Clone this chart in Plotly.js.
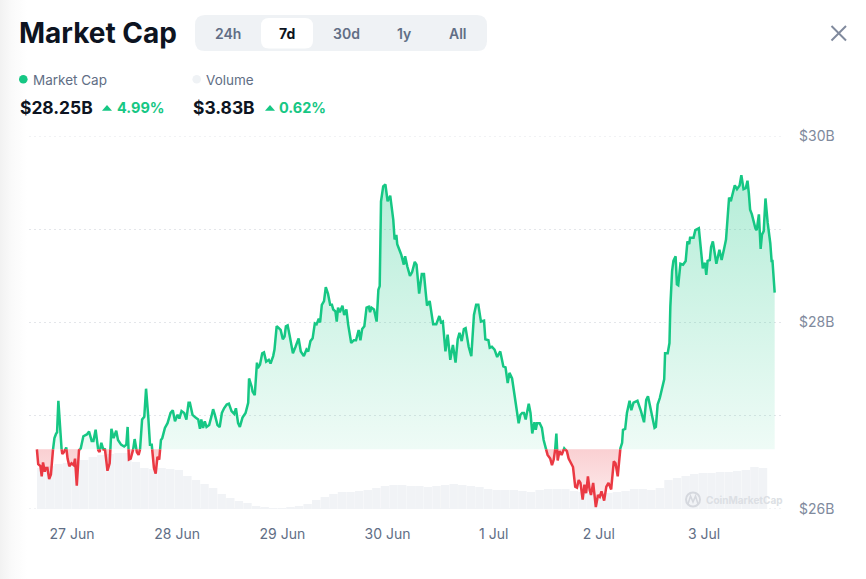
<!DOCTYPE html>
<html>
<head>
<meta charset="utf-8">
<script src="https://cdn.plot.ly/plotly-3.0.1.min.js"></script>
<style>
html,body{margin:0;padding:0;width:866px;height:579px;overflow:hidden;background:linear-gradient(to right,#f2f2f2 0,#fafafa 12px,#ffffff 27px);}
#chart{width:866px;height:579px;}
</style>
</head>
<body>
<div id="chart"></div>
<script>
// Hours after 27 Jun 00:00
const hours = [
-8.2,-7.9,-7.4,-7.1,-6.8,-6.4,-6.2,-5.8,-5.4,-5.0,-4.5,-4.2,-3.8,-3.6,-3.3,-2.9,-2.6,-2.4,-2.0,-1.5,-1.2,-0.8,-0.3,0.2,0.5,0.9,1.4,1.8,2.4,2.7,3.2,3.7,4.3,4.7,5.2,5.8,6.1,6.5,7.0,7.3,7.9,8.4,8.8,9.3,9.9,10.3,11.0,11.7,12.2,12.5,12.8,13.2,13.7,14.1,14.6,15.0,15.3,15.8,16.3,16.7,17.2,17.6,18.0,18.5,18.9,19.3,19.7,20.1,20.4,21.0,21.6,22.3,22.8,23.3,23.9,24.3,24.8,25.4,25.9,26.4,26.7,27.3,28.0,28.6,29.0,29.3,29.7,30.1,30.5,31.1,31.6,32.0,32.4,33.0,33.5,34.0,34.5,35.1,35.6,36.2,36.8,37.2,37.7,38.1,38.7,39.4,40.0,
40.2,40.8,41.0,41.5,42.0,42.2,42.7,43.2,43.6,44.1,44.7,45.1,45.7,46.0,46.5,47.0,47.4,47.9,48.3,48.6,49.0,49.5,50.2,50.8,51.5,52.0,52.7,53.3,53.7,54.2,54.7,55.2,55.6,56.1,56.4,56.8,57.3,57.7,58.2,58.7,59.1,59.4,59.9,60.2,60.5,60.9,61.5,61.9,62.4,62.8,63.5,64.1,64.6,65.2,65.6,66.0,66.5,67.0,67.5,67.8,68.1,68.7,69.3,69.7,70.0,70.3,70.8,71.3,71.8,72.4,72.9,73.1,73.4,73.8,74.0,74.5,74.9,75.5,75.8,76.3,76.9,77.4,78.0,78.4,79.0,79.6,80.1,80.5,80.8,81.4,82.2,82.9,83.6,84.0,84.4,85.0,85.5,86.1,86.7,87.3,87.8,88.2,88.7,89.2,89.6,90.3,90.9,91.5,92.0,92.5,93.1,93.8,94.1,94.8,95.1,95.6,96.2,96.8,97.5,98.2,98.7,99.2,99.6,100.2,100.7,101.3,
101.7,102.1,102.5,102.9,103.3,104.0,104.4,104.8,105.3,105.6,105.9,106.5,107.0,107.4,107.9,108.3,108.9,109.3,109.7,110.0,110.3,110.6,111.0,111.5,112.1,112.7,113.1,113.6,114.1,114.6,115.0,115.4,115.8,116.3,116.7,117.1,117.5,117.9,118.2,118.7,119.3,119.8,120.2,120.6,121.2,121.7,122.2,122.8,123.4,123.8,124.3,124.9,125.3,125.5,126.0,126.4,127.0,127.4,127.9,128.8,129.6,130.3,130.8,131.2,131.6,132.1,132.7,133.0,133.4,133.9,134.4,134.9,
135.1,135.7,136.1,136.3,136.7,137.0,137.5,137.8,138.1,138.6,139.2,139.8,140.2,140.6,140.8,141.6,142.0,142.8,143.7,144.2,144.5,144.8,145.3,145.6,146.0,146.8,147.5,148.0,148.6,149.0,149.7,150.1,150.4,151.0,151.5,152.1,152.5,153.0,153.5,153.9,154.2,154.5,154.9,155.7,156.0,156.5,156.9,157.2,157.6,158.0,158.5,159.1,159.4,159.6,160.1
];
// Market cap in $B
const marketCap = [
26.64,26.48,26.46,26.35,26.50,26.40,26.44,26.44,26.32,26.37,26.65,26.76,26.81,26.82,27.16,26.81,26.65,26.59,26.61,26.66,26.54,26.46,26.49,26.47,26.54,26.25,26.63,26.65,26.78,26.79,26.80,26.83,26.73,26.73,26.85,26.63,26.61,26.71,26.63,26.65,26.41,26.49,26.86,26.76,26.84,26.74,26.69,26.67,26.69,26.88,26.53,26.54,26.62,26.75,26.61,26.58,26.62,26.96,26.99,27.29,26.99,26.69,26.69,26.44,26.38,26.56,26.53,26.74,26.76,26.87,26.92,27.03,27.06,26.94,27.01,26.97,27.05,27.03,26.96,27.14,27.14,27.01,26.98,26.96,26.86,26.96,26.87,26.94,26.88,26.90,26.99,27.07,27.01,26.90,26.88,27.03,27.08,27.12,27.13,27.05,27.02,27.08,26.92,26.88,26.98,27.03,27.14,
27.40,27.31,27.26,27.22,27.57,27.51,27.55,27.67,27.68,27.58,27.60,27.56,27.64,27.71,27.96,27.94,27.92,27.82,27.85,27.96,27.97,27.85,27.67,27.74,27.83,27.69,27.64,27.71,27.69,27.80,27.83,27.99,27.98,28.04,28.00,28.19,28.23,28.38,28.31,28.19,28.19,28.14,28.12,28.01,28.16,28.11,28.18,28.08,28.14,27.98,27.78,27.81,27.81,27.92,27.81,27.93,27.96,28.16,28.17,28.11,28.16,28.14,28.01,28.35,28.39,29.30,29.46,29.48,29.30,29.36,29.18,29.10,28.89,28.94,28.84,28.78,28.73,28.62,28.71,28.60,28.50,28.54,28.65,28.62,28.31,28.52,28.52,28.32,28.18,28.23,27.98,27.98,28.07,28.00,28.01,27.69,27.87,27.60,27.76,27.57,27.82,27.89,27.80,27.93,27.94,27.74,27.64,28.08,28.19,28.19,28.01,28.02,27.82,27.81,27.73,27.74,27.71,27.63,27.69,27.53,27.52,27.35,27.46,27.40,27.24,27.06,
26.92,27.01,27.03,27.03,26.96,27.13,27.03,26.81,26.93,26.85,26.92,26.92,26.87,26.74,26.65,26.58,26.54,26.47,26.53,26.62,26.81,26.52,26.62,26.58,26.65,26.62,26.54,26.49,26.45,26.24,26.23,26.31,26.28,26.10,26.26,26.17,26.35,26.20,26.15,26.28,26.02,26.15,26.13,26.19,26.09,26.24,26.28,26.21,26.51,26.49,26.35,26.65,26.71,26.85,26.86,27.03,27.16,27.06,27.14,27.16,27.05,26.93,27.17,27.21,27.12,26.99,26.87,26.88,27.12,27.19,27.30,27.39,
27.67,27.67,27.78,28.17,28.55,28.66,28.71,28.41,28.40,28.63,28.62,28.66,28.87,28.84,28.91,28.91,28.99,29.01,28.58,28.64,28.51,28.66,28.67,28.81,28.87,28.63,28.78,28.67,28.80,28.89,29.34,29.30,29.36,29.47,29.43,29.47,29.58,29.43,29.44,29.52,29.39,29.21,29.16,29.01,28.99,29.16,28.79,28.94,28.98,29.33,29.07,28.85,28.66,28.66,28.32
];
// Volume in $B, evenly spaced bars across the period
const volume = [
3.74,3.92,4.10,4.20,4.29,4.47,4.74,4.92,5.02,5.11,5.11,4.29,3.74,3.65,3.74,3.65,3.56,3.01,2.64,2.28,1.92,1.37,1.00,0.73,0.55,0.27,0.18,0.09,0.09,0.18,0.27,0.46,0.82,1.09,1.37,1.55,1.55,1.64,1.73,1.92,2.10,2.19,2.19,2.10,2.10,2.01,2.10,2.19,2.28,2.19,2.10,2.01,1.82,1.73,1.73,1.73,1.64,1.55,1.73,1.82,1.82,1.82,1.64,1.55,1.46,1.37,1.46,1.55,1.64,1.82,1.82,1.73,1.92,2.64,2.83,3.01,3.19,3.28,3.28,3.37,3.37,3.47,3.56,3.83,3.74
];
const dayHours = [-0.2,23.8,47.8,71.8,96,120,144];
const dayLabels = ['27 Jun','28 Jun','29 Jun','30 Jun','1 Jul','2 Jul','3 Jul'];
const capTicks = [26,27,28,29,30];
const capTickText = ['$26B','','$28B','','$30B'];
const ranges = ['24h','7d','30d','1y','All'];
const rangeCentres = [228,287,346,404,458];
const statLabels = ['Market Cap','Volume'];
const statValues = ['$28.25B','$3.83B'];
const statChanges = ['4.99%','0.62%'];

const W=866,H=579,M={l:29,r:83,t:136,b:70};
const GREEN='#16c784',RED='#ea3943',INK='#0d1421',GREY='#616e85',FONT='Inter, "Noto Sans", sans-serif';
const GRID='#e4e6ea';
const px=x=>(x-M.l)/(W-M.l-M.r);
const py=y=>(H-M.b-y)/(H-M.t-M.b);

// Colour split at the opening value
const base=marketCap[0];
const sx=[],up=[],dn=[],fu=[],fd=[];
hours.forEach((h,i)=>{
  const v=marketCap[i];
  if(i>0){
    const p=marketCap[i-1];
    if((p-base)*(v-base)<0){
      const t=(base-p)/(v-p),c=hours[i-1]+t*(h-hours[i-1]);
      sx.push(c);up.push(base);dn.push(base);fu.push(base);fd.push(base);
    }
  }
  sx.push(h);
  up.push(v>=base?v:null);dn.push(v<=base?v:null);
  fu.push(Math.max(v,base));fd.push(Math.min(v,base));
});
const baseLine=sx.map(()=>base);
const volHours=volume.map((_,i)=>-7.2+1.96*i);

const traces=[
 {type:'bar',x:volHours,y:volume,xaxis:'x',yaxis:'y',marker:{color:'#f1f3f6',line:{width:0}},hoverinfo:'skip'},
 {type:'scatter',mode:'lines',x:sx,y:baseLine,yaxis:'y2',line:{width:0},hoverinfo:'skip'},
 {type:'scatter',mode:'lines',x:sx,y:fu,yaxis:'y2',line:{width:0},fill:'tonexty',
  fillgradient:{type:'vertical',colorscale:[[0,'rgba(22,199,132,0.32)'],[1,'rgba(22,199,132,0.07)']],start:29.6,stop:base},hoverinfo:'skip'},
 {type:'scatter',mode:'lines',x:sx,y:baseLine,yaxis:'y2',line:{width:0},hoverinfo:'skip'},
 {type:'scatter',mode:'lines',x:sx,y:fd,yaxis:'y2',line:{width:0},fill:'tonexty',
  fillgradient:{type:'vertical',colorscale:[[0,'rgba(234,57,67,0.24)'],[1,'rgba(234,57,67,0.08)']],start:base,stop:26},hoverinfo:'skip'},
 {type:'scatter',mode:'lines',x:sx,y:up,yaxis:'y2',line:{color:GREEN,width:2.5},connectgaps:false},
 {type:'scatter',mode:'lines',x:sx,y:dn,yaxis:'y2',line:{color:RED,width:2.5},connectgaps:false}
];

function rr(x0,y0,x1,y1,r){
 const X=px,Y=py;
 return `M${X(x0+r)},${Y(y0)}L${X(x1-r)},${Y(y0)}Q${X(x1)},${Y(y0)} ${X(x1)},${Y(y0+r)}L${X(x1)},${Y(y1-r)}Q${X(x1)},${Y(y1)} ${X(x1-r)},${Y(y1)}L${X(x0+r)},${Y(y1)}Q${X(x0)},${Y(y1)} ${X(x0)},${Y(y1-r)}L${X(x0)},${Y(y0+r)}Q${X(x0)},${Y(y0)} ${X(x0+r)},${Y(y0)}Z`;
}
const shapeBase={xref:'paper',yref:'paper'};
function pathShape(path,fill,line){return Object.assign({},shapeBase,{type:'path',path,fillcolor:fill||'rgba(0,0,0,0)',line:line||{width:0}});}
function dot(cx,cy,r,fill,line){return Object.assign({},shapeBase,{type:'circle',x0:px(cx-r),x1:px(cx+r),y0:py(cy+r),y1:py(cy-r),fillcolor:fill,line:line||{width:0}});}
function tri(x0,x1,yTop,yBot){return pathShape(`M${px(x0)},${py(yBot)}L${px((x0+x1)/2)},${py(yTop)}L${px(x1)},${py(yBot)}Z`,GREEN);}
function seg(x0,y0,x1,y1,c,w){return Object.assign({},shapeBase,{type:'line',x0:px(x0),y0:py(y0),x1:px(x1),y1:py(y1),line:{color:c,width:w}});}
function edgeGrid(v){return {type:'line',xref:'paper',yref:'y2',x0:0,x1:1,y0:v,y1:v,layer:'below',line:{color:GRID,width:1,dash:'2px,3px'}};}

const shapes=[
 edgeGrid(capTicks[0]),
 edgeGrid(capTicks[4]),
 pathShape(rr(195,15,487,51,10),'#eff2f5'),
 pathShape(rr(261,18,313,48.5,8),'#ffffff'),
 dot(23.3,79.3,4.3,GREEN),
 dot(196.7,79.3,4.3,'#eff2f5'),
 tri(102,112,105,110.8),
 tri(265,275,105,110.8),
 seg(831.5,26,846,40.5,'#808a9d',2),
 seg(846,26,831.5,40.5,'#808a9d',2),
 dot(693,499.5,7,'rgba(0,0,0,0)',{color:'#d5d8de',width:2}),
 pathShape(`M${px(688)},${py(504)}L${px(690.5)},${py(496)}L${px(693)},${py(502)}L${px(695.5)},${py(496)}L${px(698)},${py(504)}`,null,{color:'#d5d8de',width:1.6})
];

function label(text,x,y,size,color,weight,anchor){
 return {xref:'paper',yref:'paper',x:px(x),y:py(y),text:text,showarrow:false,xanchor:anchor||'left',yanchor:'middle',
  borderpad:0,font:{family:FONT,size:size,color:color,weight:weight||400}};
}
const annotations=[
 label('Market Cap',18,33,28,INK,700),
 label(statLabels[0],32,80,13.5,GREY,400),
 label(statLabels[1],205,80,13.5,GREY,400),
 label(statValues[0],18.5,108,17.4,INK,700),
 label(statChanges[0],116,108,14.5,GREEN,700),
 label(statValues[1],191.5,108,17.4,INK,700),
 label(statChanges[1],278,108,14.5,GREEN,700),
 label('CoinMarketCap',705,500,10,'#dcdfe4',700)
];
ranges.forEach((r,i)=>annotations.push(label(r,rangeCentres[i],33,14,i===1?INK:GREY,i===1?700:600,'center')));

const layout={
 width:W,height:H,margin:M,showlegend:false,
 paper_bgcolor:'rgba(0,0,0,0)',plot_bgcolor:'rgba(0,0,0,0)',
 font:{family:FONT},
 barmode:'overlay',bargap:0.02,
 hovermode:false,
 xaxis:{range:[-10,162],tickmode:'array',tickvals:dayHours,ticktext:dayLabels,showgrid:false,zeroline:false,showline:false,ticks:'',
  tickfont:{family:FONT,size:14,color:GREY},ticklabelstandoff:15,fixedrange:true},
 yaxis:{range:[0,34],visible:false,fixedrange:true},
 yaxis2:{range:[26,30],overlaying:'y',side:'right',tickmode:'array',tickvals:capTicks,ticktext:capTickText,
  showgrid:true,gridcolor:GRID,griddash:'2px,3px',gridwidth:1,zeroline:false,showline:false,ticks:'',
  tickfont:{family:FONT,size:14,color:'#808a9d'},ticklabelstandoff:15,fixedrange:true},
 shapes,annotations
};
Plotly.newPlot('chart',traces,layout,{displayModeBar:false,staticPlot:true});
</script>
</body>
</html>
